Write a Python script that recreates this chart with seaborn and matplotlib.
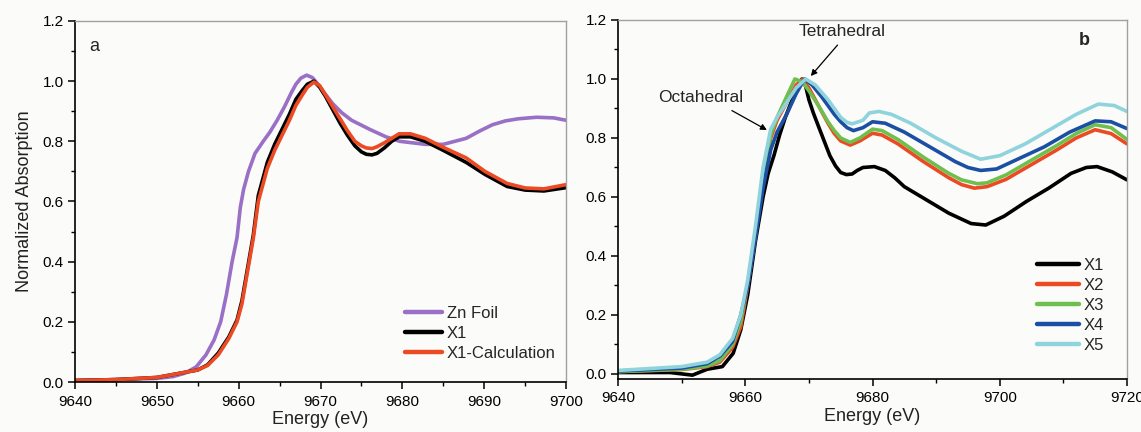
import numpy as np
import pandas as pd
import matplotlib
matplotlib.use("Agg")
import matplotlib.pyplot as plt
from matplotlib.ticker import MultipleLocator
import seaborn as sns

# ---------------- Panel a data ----------------
zn_e = [9640, 9645, 9650, 9652, 9653.5, 9654.8, 9656, 9657, 9657.8, 9658.5, 9659.2,
        9659.8, 9660.2, 9660.6, 9661.2, 9662, 9663, 9663.8, 9664.7, 9665.6, 9666.4,
        9667, 9667.6, 9668.3, 9669, 9669.7, 9670.5, 9671.5, 9672.6, 9673.8, 9676,
        9678, 9679.7, 9682.8, 9685, 9687.8, 9689.5, 9691, 9692.6, 9694.2, 9696.4,
        9698.5, 9700]
zn_v = [0.005, 0.008, 0.012, 0.018, 0.03, 0.05, 0.09, 0.14, 0.2, 0.29, 0.4,
        0.48, 0.58, 0.64, 0.7, 0.76, 0.80, 0.83, 0.87, 0.915, 0.96,
        0.99, 1.01, 1.02, 1.012, 0.99, 0.96, 0.925, 0.895, 0.87, 0.84,
        0.815, 0.80, 0.79, 0.79, 0.81, 0.835, 0.855, 0.868, 0.875, 0.88,
        0.878, 0.87]

x1a_e = [9640, 9645, 9650, 9653, 9655, 9656.2, 9657.5, 9658.8, 9659.8, 9660.4, 9661.1,
         9661.8, 9662.4, 9663.5, 9664.4, 9665.3, 9666.2, 9667, 9667.8, 9668.4, 9669.2,
         9669.9, 9670.6, 9671.5, 9672.4, 9673.3, 9674.2, 9675, 9675.6, 9676.3, 9676.9,
         9677.8, 9678.7, 9679.6, 9681, 9682.8, 9685, 9687.8, 9690.1, 9692.8, 9695,
         9697.3, 9700]
x1a_v = [0.005, 0.008, 0.015, 0.03, 0.04, 0.057, 0.096, 0.15, 0.206, 0.27, 0.38,
         0.49, 0.62, 0.73, 0.79, 0.84, 0.89, 0.94, 0.97, 0.99, 1.0,
         0.98, 0.95, 0.905, 0.86, 0.82, 0.785, 0.765, 0.757, 0.755, 0.76,
         0.778, 0.80, 0.815, 0.815, 0.80, 0.77, 0.73, 0.69, 0.65, 0.638,
         0.635, 0.646]

calc_e = x1a_e
calc_v = [0.005, 0.008, 0.015, 0.03, 0.04, 0.055, 0.09, 0.145, 0.2, 0.26, 0.37,
          0.48, 0.60, 0.71, 0.77, 0.82, 0.87, 0.92, 0.955, 0.98, 0.997,
          0.985, 0.955, 0.915, 0.875, 0.835, 0.80, 0.785, 0.778, 0.776, 0.782,
          0.795, 0.81, 0.825, 0.825, 0.81, 0.78, 0.745, 0.70, 0.66, 0.645,
          0.642, 0.656]

# ---------------- Panel b data ----------------
x1b_e = [9640, 9648.2, 9651.7, 9654, 9656.4, 9658.1, 9659.3, 9660.4, 9661.6, 9662.8,
         9663.6, 9664.5, 9665.4, 9666.3, 9667.2, 9668, 9668.9, 9669.5, 9670, 9670.7,
         9671.5, 9672.4, 9673.3, 9674.2, 9675, 9675.9, 9676.8, 9677.6, 9678.5, 9680.3,
         9682, 9683.5, 9685, 9688.5, 9692, 9695.5, 9697.8, 9700.7, 9704.2, 9707.7,
         9711.2, 9713.6, 9715.3, 9717.7, 9720]
x1b_v = [0.005, 0.005, -0.004, 0.016, 0.025, 0.07, 0.15, 0.27, 0.45, 0.6,
         0.68, 0.74, 0.81, 0.87, 0.92, 0.97, 1.0, 0.975, 0.93, 0.885,
         0.84, 0.79, 0.74, 0.705, 0.683, 0.676, 0.678, 0.69, 0.70, 0.703,
         0.69, 0.665, 0.635, 0.59, 0.545, 0.51, 0.505, 0.535, 0.585, 0.63,
         0.68, 0.70, 0.703, 0.685, 0.658]

x2_e = [9640, 9650, 9654, 9656, 9658, 9659.3, 9660.4, 9661.6, 9662.8, 9664, 9665,
        9666.5, 9668, 9669, 9670, 9671.5, 9673, 9674, 9675, 9676.5, 9678, 9680, 9681.5,
        9684, 9688, 9692, 9694, 9696, 9698, 9701, 9705, 9709, 9712, 9715, 9717.5, 9720]
x2_v = [0.008, 0.015, 0.025, 0.04, 0.09, 0.16, 0.30, 0.47, 0.66, 0.80, 0.86,
        0.92, 0.98, 1.0, 0.97, 0.91, 0.85, 0.815, 0.79, 0.776, 0.79, 0.816, 0.81,
        0.78, 0.72, 0.665, 0.642, 0.63, 0.635, 0.66, 0.71, 0.76, 0.80, 0.828, 0.815, 0.78]

x3_e = [9640, 9650, 9654, 9656, 9658, 9659.3, 9660.4, 9661.6, 9662.8, 9664, 9665,
        9666.5, 9667.8, 9669, 9670, 9671.5, 9673, 9674, 9675, 9676.5, 9678, 9680, 9681.5,
        9684, 9688, 9692, 9694, 9696.5, 9698, 9701, 9705, 9709, 9712, 9715, 9717.5, 9720]
x3_v = [0.008, 0.016, 0.027, 0.045, 0.1, 0.18, 0.31, 0.48, 0.67, 0.81, 0.87,
        0.94, 1.0, 0.99, 0.96, 0.91, 0.855, 0.825, 0.80, 0.785, 0.80, 0.83, 0.825,
        0.795, 0.735, 0.68, 0.658, 0.645, 0.648, 0.675, 0.725, 0.775, 0.815, 0.845, 0.835, 0.795]

x4_e = [9640, 9650, 9654, 9656, 9658, 9659.3, 9660.4, 9661.6, 9662.8, 9664, 9665,
        9666.5, 9668, 9669.3, 9670.5, 9672, 9674, 9675, 9676, 9677, 9678.5, 9680, 9682,
        9685, 9689, 9693, 9695, 9697, 9699.5, 9703, 9707, 9711, 9715, 9717.5, 9720]
x4_v = [0.01, 0.02, 0.035, 0.06, 0.11, 0.2, 0.30, 0.46, 0.63, 0.76, 0.82,
        0.88, 0.95, 1.0, 0.98, 0.94, 0.88, 0.855, 0.835, 0.825, 0.835, 0.855, 0.85,
        0.82, 0.77, 0.72, 0.70, 0.69, 0.695, 0.73, 0.77, 0.82, 0.858, 0.855, 0.832]

x5_e = [9640, 9650, 9654, 9656, 9658, 9659.3, 9660.4, 9661.6, 9662.8, 9664, 9665,
        9666.5, 9668, 9669.5, 9671, 9673, 9675, 9676, 9676.8, 9678.5, 9679.5, 9681, 9683,
        9686, 9690, 9694, 9697, 9700, 9704, 9708, 9712, 9715.5, 9718, 9720]
x5_v = [0.012, 0.025, 0.04, 0.065, 0.12, 0.2, 0.32, 0.50, 0.70, 0.83, 0.87,
        0.92, 0.97, 1.0, 0.98, 0.93, 0.87, 0.853, 0.848, 0.86, 0.885, 0.89, 0.88,
        0.85, 0.80, 0.755, 0.728, 0.74, 0.78, 0.83, 0.88, 0.915, 0.91, 0.89]

labels_a = ["Zn Foil", "X1", "X1-Calculation"]
colors_a = ["#9a6fc6", "#000000", "#ec4a22"]
labels_b = ["X1", "X2", "X3", "X4", "X5"]
colors_b = ["#000000", "#ec4a22", "#6fbf4e", "#1b4fa3", "#8fd4dd"]

# ---------------- style ----------------
sns.set_theme(style="ticks")
plt.rcParams["font.family"] = ["Liberation Sans", "DejaVu Sans"]
bg = "#fbfbf9"

def long_df(pairs, names):
    frames = []
    for (e, v), n in zip(pairs, names):
        frames.append(pd.DataFrame({"Energy": e, "Abs": v, "Sample": n}))
    return pd.concat(frames, ignore_index=True)

df_a = long_df([(zn_e, zn_v), (x1a_e, x1a_v), (calc_e, calc_v)], labels_a)
df_b = long_df([(x1b_e, x1b_v), (x2_e, x2_v), (x3_e, x3_v), (x4_e, x4_v), (x5_e, x5_v)], labels_b)

fig = plt.figure(figsize=(11.41, 4.32), dpi=100, facecolor=bg)
ax1 = fig.add_axes([75/1141, 1-382/432, 491/1141, 361/432])
ax2 = fig.add_axes([618/1141, 1-379/432, 509/1141, 359/432])

sns.lineplot(data=df_a, x="Energy", y="Abs", hue="Sample", hue_order=labels_a,
             palette=colors_a, sort=False, estimator=None, linewidth=2.6, ax=ax1)
sns.lineplot(data=df_b, x="Energy", y="Abs", hue="Sample", hue_order=labels_b,
             palette=colors_b, sort=False, estimator=None, linewidth=2.6, ax=ax2)

for ax in (ax1, ax2):
    ax.set_facecolor(bg)
    for s in ("left", "bottom"):
        ax.spines[s].set_color("black")
        ax.spines[s].set_linewidth(1.2)
    for s in ("right", "top"):
        ax.spines[s].set_color("#a0a0a0")
        ax.spines[s].set_linewidth(1.0)
    ax.tick_params(axis="both", which="major", direction="out", length=5, width=1.1,
                   labelsize=11, pad=3, colors="black")
    ax.tick_params(axis="x", which="major", pad=4)
    ax.tick_params(axis="both", which="minor", direction="out", length=3, width=1.0, colors="black")
    ax.yaxis.set_major_locator(MultipleLocator(0.2))
    ax.yaxis.set_minor_locator(MultipleLocator(0.1))
    ax.yaxis.set_major_formatter(matplotlib.ticker.FormatStrFormatter("%.1f"))
    ax.set_xlabel("Energy (eV)", fontsize=13, labelpad=2, color="#222222")

ax1.set_xlim(9640, 9700)
ax1.set_ylim(0, 1.2)
ax1.xaxis.set_major_locator(MultipleLocator(10))
ax1.xaxis.set_minor_locator(MultipleLocator(5))
ax1.set_ylabel("Normalized Absorption", fontsize=13, labelpad=7, color="#222222")
ax1.text(9641.8, 1.114, "a", fontsize=13, ha="left", va="center")

ax2.set_xlim(9640, 9720)
ax2.set_ylim(-0.017, 1.2)
ax2.xaxis.set_major_locator(MultipleLocator(20))
ax2.xaxis.set_minor_locator(MultipleLocator(10))
ax2.set_ylabel("")
ax2.text(9713.3, 1.13, "b", fontsize=13, fontweight="bold", ha="center", va="center")

arrow_kw = dict(arrowstyle="-|>", color="black", lw=0.9, mutation_scale=9, shrinkA=0, shrinkB=0)
ax2.text(9675.3, 1.16, "Tetrahedral", fontsize=12.5, ha="center", va="center")
ax2.annotate("", xy=(9670.3, 1.01), xytext=(9674.5, 1.115), arrowprops=arrow_kw)
ax2.text(9653, 0.936, "Octahedral", fontsize=12.5, ha="center", va="center")
ax2.annotate("", xy=(9663.4, 0.827), xytext=(9657.9, 0.893), arrowprops=arrow_kw)

leg1 = ax1.legend(loc="upper left", bbox_to_anchor=(0.672, 0.21), frameon=False,
                  fontsize=12, handlelength=2.2, handletextpad=0.3, labelspacing=0.3,
                  borderpad=0, borderaxespad=0)
leg2 = ax2.legend(loc="upper left", bbox_to_anchor=(0.823, 0.338), frameon=False,
                  fontsize=12, handlelength=2.5, handletextpad=0.3, labelspacing=0.3,
                  borderpad=0, borderaxespad=0)
for leg in (leg1, leg2):
    for h in leg.get_lines():
        h.set_linewidth(3.2)

fig.savefig("out.png", dpi=100, facecolor=bg)
